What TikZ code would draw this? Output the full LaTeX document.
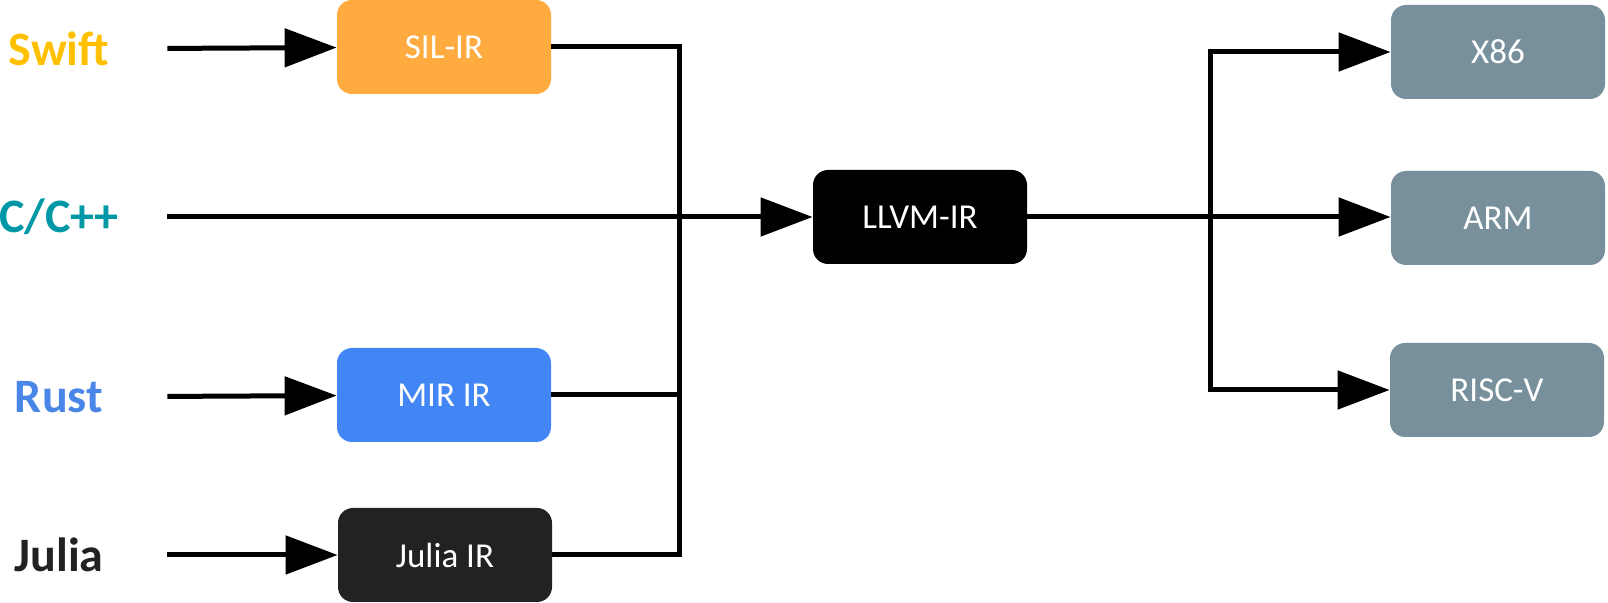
\documentclass[tikz,border=0pt]{standalone}
\usepackage{fontspec}
\setmainfont{Carlito}
\usetikzlibrary{arrows.meta,positioning}

\definecolor{swiftc}{HTML}{FFC000}
\definecolor{cppc}{HTML}{0097A7}
\definecolor{rustc}{HTML}{4A86E8}
\definecolor{juliac}{HTML}{222222}
\definecolor{silc}{HTML}{FFAB40}
\definecolor{mirc}{HTML}{4285F4}
\definecolor{tgtc}{HTML}{78909C}

\tikzset{
  irbox/.style={rounded corners=7.5pt,minimum width=107pt,minimum height=47pt,
    text=white,font=\fontsize{17.5}{20}\selectfont},
  lang/.style={font=\fontsize{24}{28}\selectfont\bfseries,minimum width=108pt,inner sep=0pt},
  flow/.style={line width=2.5pt},
  tip/.style={flow,-{Triangle[length=26pt,width=19pt]}}
}

\begin{document}
\begin{tikzpicture}[x=0.5pt,y=-0.5pt]
  \useasboundingbox (0,0) rectangle (1608,603);

  % front ends
  \node[lang,text=swiftc] (swift) at (59,49) {Swift};
  \node[lang,text=cppc] (cpp) at (59,217) {C/C++};
  \node[lang,text=rustc] (rust) at (59,397) {Rust};
  \node[lang,text=juliac] (julia) at (59,555) {Julia};

  \node[irbox,fill=silc] (sil) at (444,47) {SIL-IR};
  \node[irbox,fill=mirc] (mir) at (444,395) {MIR IR};
  \node[irbox,fill=juliac] (jir) at (445,555) {Julia IR};

  \node[irbox,fill=black] (llvm) at (920,217) {LLVM-IR};

  % back ends
  \node[irbox,fill=tgtc] (x86) at (1498,52) {X86};
  \node[irbox,fill=tgtc] (arm) at (1498,218) {ARM};
  \node[irbox,fill=tgtc] (riscv) at (1497,390) {RISC-V};

  \coordinate (busL) at (679,217);
  \coordinate (busR) at (1210,217);

  \draw[tip] (swift) -- (sil);
  \draw[tip] (rust) -- (mir);
  \draw[tip] (julia) -- (jir);
  \draw[tip] (cpp) -- (llvm);

  \draw[flow] (sil) -| (busL) |- (jir);
  \draw[flow] (mir.east) -- (mir.east -| busL);

  \draw[tip] (llvm) -- (llvm -| arm.west);
  \draw[tip] (busR) |- (x86);
  \draw[tip] (busR) |- (riscv);
\end{tikzpicture}
\end{document}
